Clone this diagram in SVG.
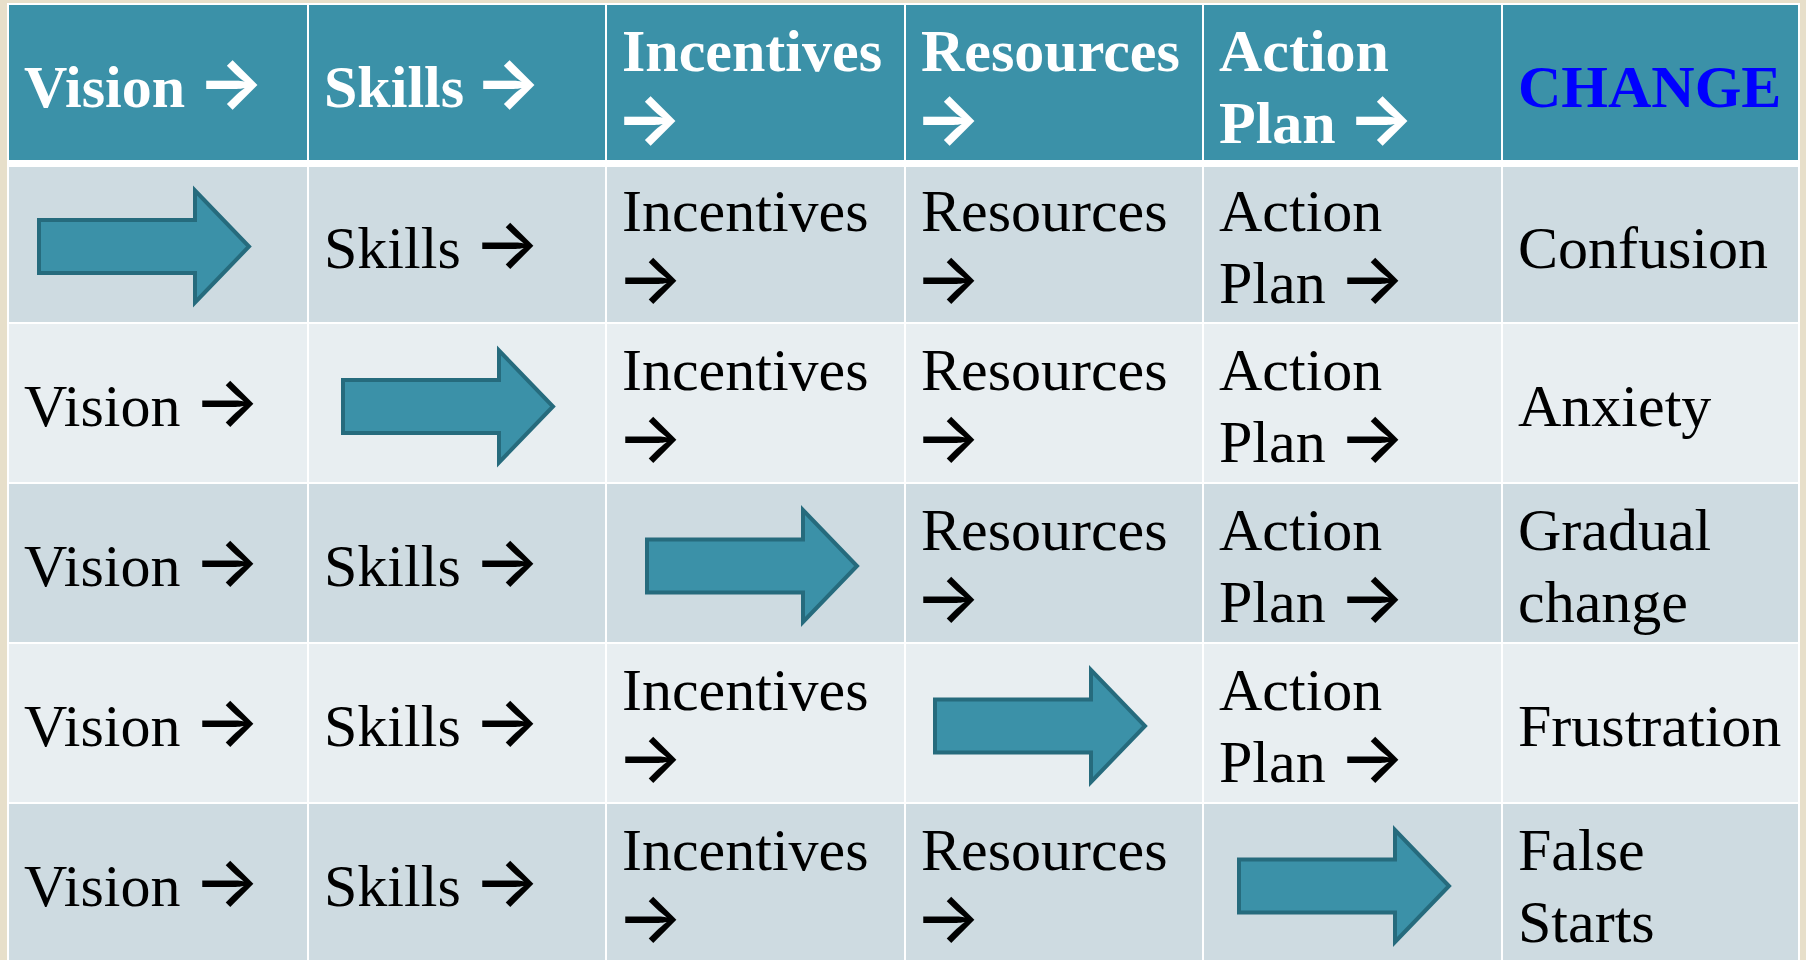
<svg xmlns="http://www.w3.org/2000/svg" xmlns:xlink="http://www.w3.org/1999/xlink" width="1806" height="960" viewBox="0 0 1806 960">
<style>
.bg{fill:#E7DFCA}
.hd{fill:#3B91A8}
.dk{fill:#CEDBE1}
.lt{fill:#E8EEF1}
.t{font-family:"Liberation Serif","Times New Roman",serif;font-size:60px;fill:#000}
.h{font-weight:bold;fill:#fff}
.chg{fill:#0000FF}
.ar{font-family:Inter,"DejaVu Sans",sans-serif;font-weight:500;font-size:70px}
.h .ar{font-weight:700}
.blk{fill:#3B91A8;stroke:#266B7D;stroke-width:4;stroke-linejoin:miter}
</style>
<defs>
<polygon id="blk" class="blk" points="0,-26.5 156,-26.5 156,-56 210,0 156,56 156,26.5 0,26.5"/>
</defs>
<rect class="bg" x="0" y="0" width="1806" height="960"/>
<rect fill="#ffffff" x="7" y="3" width="1793" height="960"/>

<g id="header">
<g id="h-vision"><rect class="hd" x="9" y="5" width="298" height="155"/><text class="t h" x="24" y="107">Vision <tspan class="ar" x="197.5">→</tspan></text></g>
<g id="h-skills"><rect class="hd" x="309" y="5" width="296" height="155"/><text class="t h" x="324" y="107">Skills <tspan class="ar" x="474.5">→</tspan></text></g>
<g id="h-incentives"><rect class="hd" x="607" y="5" width="297" height="155"/><text class="t h" x="622" y="71">Incentives</text><text class="t h" x="615.5" y="143"><tspan class="ar">→</tspan></text></g>
<g id="h-resources"><rect class="hd" x="906" y="5" width="296" height="155"/><text class="t h" x="921" y="71">Resources</text><text class="t h" x="914.5" y="143"><tspan class="ar">→</tspan></text></g>
<g id="h-action"><rect class="hd" x="1204" y="5" width="297" height="155"/><text class="t h" x="1219" y="71">Action</text><text class="t h" x="1219" y="143">Plan <tspan class="ar" x="1347.5">→</tspan></text></g>
<g id="h-change"><rect class="hd" x="1503" y="5" width="295" height="155"/><text class="t h chg" x="1518" y="107">CHANGE</text></g>
</g>

<g id="row1">
<g id="r1c0"><rect class="dk" x="9" y="167" width="298" height="155"/><use xlink:href="#blk" x="39" y="246.5"/></g>
<g id="r1c1"><rect class="dk" x="309" y="167" width="296" height="155"/><text class="t" x="324" y="267.5">Skills <tspan class="ar" x="473.5">→</tspan></text></g>
<g id="r1c2"><rect class="dk" x="607" y="167" width="297" height="155"/><text class="t" x="622" y="231">Incentives</text><text class="t" x="616.5" y="303"><tspan class="ar">→</tspan></text></g>
<g id="r1c3"><rect class="dk" x="906" y="167" width="296" height="155"/><text class="t" x="921" y="231">Resources</text><text class="t" x="914.5" y="303"><tspan class="ar">→</tspan></text></g>
<g id="r1c4"><rect class="dk" x="1204" y="167" width="297" height="155"/><text class="t" x="1219" y="231">Action</text><text class="t" x="1219" y="303">Plan <tspan class="ar" x="1338.5">→</tspan></text></g>
<g id="r1c5"><rect class="dk" x="1503" y="167" width="295" height="155"/><text class="t" x="1518" y="267.5">Confusion</text></g>
</g>

<g id="row2">
<g id="r2c0"><rect class="lt" x="9" y="324" width="298" height="158"/><text class="t" x="24" y="426">Vision <tspan class="ar" x="193.5">→</tspan></text></g>
<g id="r2c1"><rect class="lt" x="309" y="324" width="296" height="158"/><use xlink:href="#blk" x="343" y="406.5"/></g>
<g id="r2c2"><rect class="lt" x="607" y="324" width="297" height="158"/><text class="t" x="622" y="389.5">Incentives</text><text class="t" x="616.5" y="461.5"><tspan class="ar">→</tspan></text></g>
<g id="r2c3"><rect class="lt" x="906" y="324" width="296" height="158"/><text class="t" x="921" y="389.5">Resources</text><text class="t" x="914.5" y="461.5"><tspan class="ar">→</tspan></text></g>
<g id="r2c4"><rect class="lt" x="1204" y="324" width="297" height="158"/><text class="t" x="1219" y="389.5">Action</text><text class="t" x="1219" y="461.5">Plan <tspan class="ar" x="1338.5">→</tspan></text></g>
<g id="r2c5"><rect class="lt" x="1503" y="324" width="295" height="158"/><text class="t" x="1518" y="426">Anxiety</text></g>
</g>

<g id="row3">
<g id="r3c0"><rect class="dk" x="9" y="484" width="298" height="158"/><text class="t" x="24" y="586">Vision <tspan class="ar" x="193.5">→</tspan></text></g>
<g id="r3c1"><rect class="dk" x="309" y="484" width="296" height="158"/><text class="t" x="324" y="586">Skills <tspan class="ar" x="473.5">→</tspan></text></g>
<g id="r3c2"><rect class="dk" x="607" y="484" width="297" height="158"/><use xlink:href="#blk" x="647" y="566"/></g>
<g id="r3c3"><rect class="dk" x="906" y="484" width="296" height="158"/><text class="t" x="921" y="549.5">Resources</text><text class="t" x="914.5" y="621.5"><tspan class="ar">→</tspan></text></g>
<g id="r3c4"><rect class="dk" x="1204" y="484" width="297" height="158"/><text class="t" x="1219" y="549.5">Action</text><text class="t" x="1219" y="621.5">Plan <tspan class="ar" x="1338.5">→</tspan></text></g>
<g id="r3c5"><rect class="dk" x="1503" y="484" width="295" height="158"/><text class="t" x="1518" y="549.5">Gradual</text><text class="t" x="1518" y="621.5">change</text></g>
</g>

<g id="row4">
<g id="r4c0"><rect class="lt" x="9" y="644" width="298" height="158"/><text class="t" x="24" y="746">Vision <tspan class="ar" x="193.5">→</tspan></text></g>
<g id="r4c1"><rect class="lt" x="309" y="644" width="296" height="158"/><text class="t" x="324" y="746">Skills <tspan class="ar" x="473.5">→</tspan></text></g>
<g id="r4c2"><rect class="lt" x="607" y="644" width="297" height="158"/><text class="t" x="622" y="709.5">Incentives</text><text class="t" x="616.5" y="781.5"><tspan class="ar">→</tspan></text></g>
<g id="r4c3"><rect class="lt" x="906" y="644" width="296" height="158"/><use xlink:href="#blk" x="935" y="726"/></g>
<g id="r4c4"><rect class="lt" x="1204" y="644" width="297" height="158"/><text class="t" x="1219" y="709.5">Action</text><text class="t" x="1219" y="781.5">Plan <tspan class="ar" x="1338.5">→</tspan></text></g>
<g id="r4c5"><rect class="lt" x="1503" y="644" width="295" height="158"/><text class="t" x="1518" y="746">Frustration</text></g>
</g>

<g id="row5">
<g id="r5c0"><rect class="dk" x="9" y="804" width="298" height="158"/><text class="t" x="24" y="906">Vision <tspan class="ar" x="193.5">→</tspan></text></g>
<g id="r5c1"><rect class="dk" x="309" y="804" width="296" height="158"/><text class="t" x="324" y="906">Skills <tspan class="ar" x="473.5">→</tspan></text></g>
<g id="r5c2"><rect class="dk" x="607" y="804" width="297" height="158"/><text class="t" x="622" y="869.5">Incentives</text><text class="t" x="616.5" y="941.5"><tspan class="ar">→</tspan></text></g>
<g id="r5c3"><rect class="dk" x="906" y="804" width="296" height="158"/><text class="t" x="921" y="869.5">Resources</text><text class="t" x="914.5" y="941.5"><tspan class="ar">→</tspan></text></g>
<g id="r5c4"><rect class="dk" x="1204" y="804" width="297" height="158"/><use xlink:href="#blk" x="1239" y="886"/></g>
<g id="r5c5"><rect class="dk" x="1503" y="804" width="295" height="158"/><text class="t" x="1518" y="869.5">False</text><text class="t" x="1518" y="941.5">Starts</text></g>
</g>
<g id="connectors"></g>
</svg>
